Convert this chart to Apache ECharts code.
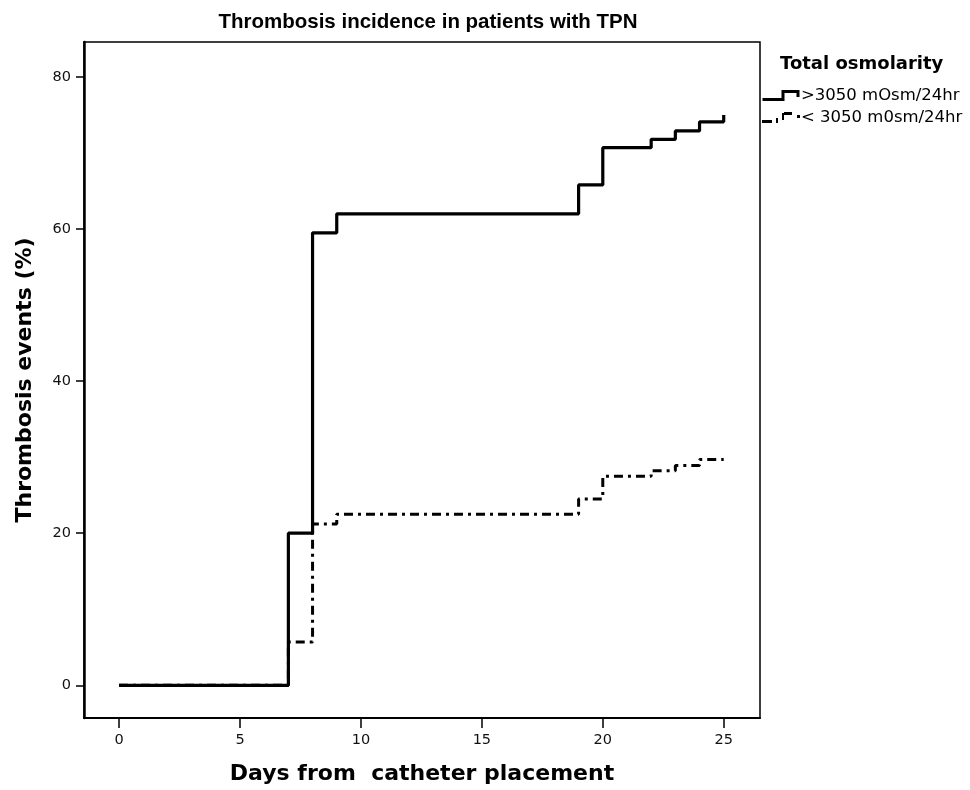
<!DOCTYPE html>
<html>
<head>
<meta charset="utf-8">
<script src="https://cdn.jsdelivr.net/npm/echarts@6/dist/echarts.min.js"></script>
<style>
  html, body { margin: 0; padding: 0; background: #fff; }
  #main { width: 970px; height: 790px; }
</style>
</head>
<body>
<div id="main"></div>
<script>
// values (percent of patients with thrombosis)
const eventDays = [0, 7, 8, 9, 19, 20, 22, 23, 24, 25];
const highOsm = [0, 20, 59.5, 62, 65.8, 70.7, 71.8, 72.9, 74.1, 75];
const lowOsm = [0, 5.7, 21.2, 22.5, 24.5, 27.5, 28.2, 28.9, 29.7, 29.7];
const xTicks = [0, 5, 10, 15, 20, 25];
const yTicks = [0, 20, 40, 60, 80];
const seriesNames = ['>3050 mOsm/24hr', '< 3050 m0sm/24hr'];

const chart = echarts.init(document.getElementById('main'));

const font = 'DejaVu Sans';

const option = {
  animation: false,
  backgroundColor: '#fff',
  title: {
    text: 'Thrombosis incidence in patients with TPN',
    left: 423, top: 7, textAlign: 'center',
    textStyle: { fontFamily: 'Liberation Sans', fontWeight: 'bold', fontSize: 20.5, color: '#000' }
  },
  grid: {
    left: 84, right: 210, top: 42, bottom: 72,
    show: true, borderColor: '#000', borderWidth: 1.5
  },
  legend: {
    orient: 'vertical',
    left: 757, top: 82,
    itemGap: 5, itemWidth: 38, itemHeight: 11,
    textStyle: { fontFamily: font, fontSize: 16.5, lineHeight: 16, color: '#000', padding: [0, 0, 0, -4] },
    data: [
      { name: seriesNames[0], icon: 'path://M0,8H19V0H37V7H34V3H22V11H0Z' },
      { name: seriesNames[1], icon: 'path://M0,8H10V11H0Z M14,6H16V11H14Z M20,1H22V8H20Z M22,0H30V3H22Z M35,3H38V6H35Z' }
    ]
  },
  graphic: [{
    type: 'text', left: 780, top: 55,
    style: { text: 'Total osmolarity', font: 'bold 18px ' + font, fill: '#000' }
  }],
  xAxis: {
    type: 'value', min: -1.45, max: 26.5,
    name: 'Days from  catheter placement',
    nameLocation: 'middle', nameGap: 45,
    nameTextStyle: { fontFamily: font, fontWeight: 'bold', fontSize: 22, color: '#000' },
    axisLine: { show: true, onZero: false, lineStyle: { color: '#000', width: 2 } },
    axisTick: { show: true, length: 10, customValues: xTicks, lineStyle: { color: '#000', width: 1.5 } },
    axisLabel: { customValues: xTicks, margin: 15, fontFamily: font, fontSize: 14.5, color: '#111' },
    splitLine: { show: false }
  },
  yAxis: {
    type: 'value', min: -4.3, max: 84.6,
    name: 'Thrombosis events (%)',
    nameLocation: 'middle', nameGap: 48,
    nameTextStyle: { fontFamily: font, fontWeight: 'bold', fontSize: 22, color: '#000' },
    axisLine: { show: true, onZero: false, lineStyle: { color: '#000', width: 2.5 } },
    axisTick: { show: true, length: 8, customValues: yTicks, lineStyle: { color: '#000', width: 1.5 } },
    axisLabel: { customValues: yTicks, margin: 13, fontFamily: font, fontSize: 14.5, color: '#111' },
    splitLine: { show: false }
  },
  series: [
    {
      name: seriesNames[0],
      type: 'line', step: 'end', symbol: 'none',
      data: eventDays.map((d, i) => [d, highOsm[i]]),
      itemStyle: { color: '#000' },
      lineStyle: { color: '#000', width: 3.2 }
    },
    {
      name: seriesNames[1],
      type: 'line', step: 'end', symbol: 'none',
      data: eventDays.map((d, i) => [d, lowOsm[i]]),
      itemStyle: { color: '#000' },
      lineStyle: { color: '#000', width: 3, type: [9, 5, 3, 5] }
    }
  ]
};

chart.setOption(option);
</script>
</body>
</html>
